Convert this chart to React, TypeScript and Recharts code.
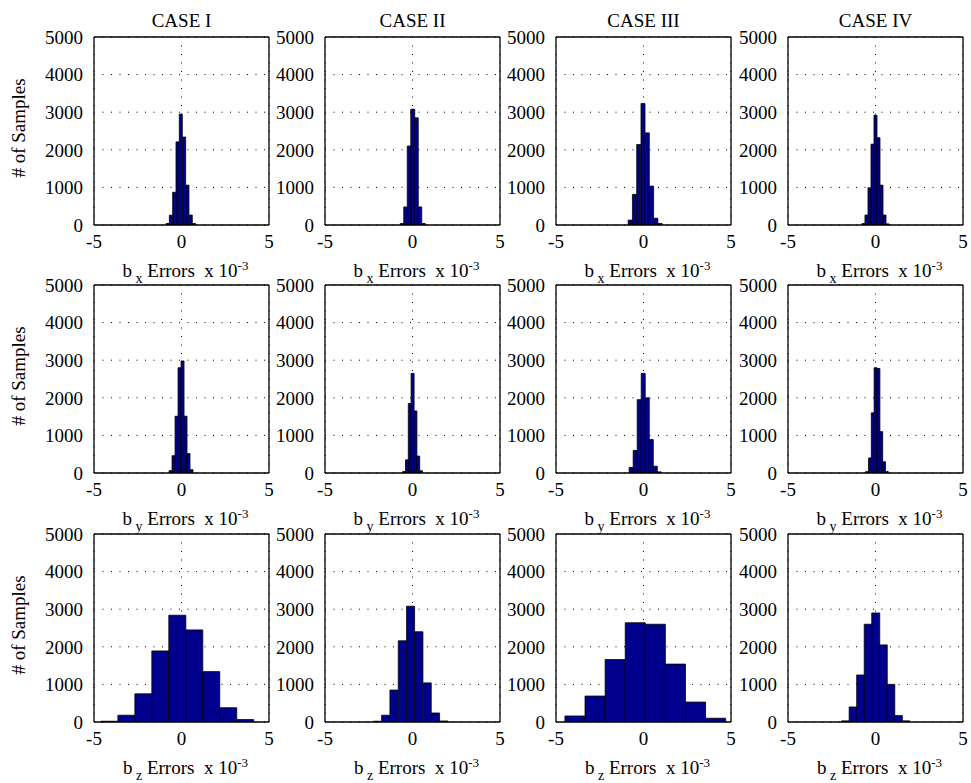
import { Bar, BarChart, CartesianGrid, XAxis, YAxis } from "recharts";

const cases = ["CASE I", "CASE II", "CASE III", "CASE IV"];
const components = ["x", "y", "z"];
const xTicks = [-5, 0, 5];
const yTicks = [0, 1000, 2000, 3000, 4000, 5000];
const xMinorTicks = [
	-5, -4.5, -4, -3.5, -3, -2.5, -2, -1.5, -1, -0.5, 0, 0.5, 1, 1.5, 2, 2.5, 3,
	3.5, 4, 4.5, 5,
];
const yMinorTicks = [0, 500, 1000, 1500, 2000, 2500, 3000, 3500, 4000, 4500, 5000];

// bin centres (x 10^-3) and sample counts, bx row
const bxCase1Centers = [-0.79, -0.6, -0.41, -0.22, -0.03, 0.16, 0.35, 0.54, 0.73];
const bxCase1Counts = [40, 260, 870, 2210, 2950, 2340, 1060, 265, 40];
const bxCase2Centers = [-0.6, -0.4, -0.2, 0, 0.2, 0.4, 0.6];
const bxCase2Counts = [40, 480, 2100, 3080, 2850, 480, 40];
const bxCase3Centers = [-0.755, -0.51, -0.265, -0.02, 0.225, 0.47, 0.715, 0.96];
const bxCase3Counts = [130, 815, 2140, 3230, 2450, 1035, 180, 40];
const bxCase4Centers = [-0.688, -0.516, -0.344, -0.172, 0, 0.172, 0.344, 0.516, 0.688];
const bxCase4Counts = [40, 265, 990, 2150, 2920, 2320, 1060, 265, 30];

// by row
const byCase1Centers = [-0.625, -0.454, -0.283, -0.112, 0.059, 0.23, 0.401, 0.572];
const byCase1Counts = [62, 460, 1510, 2800, 2980, 1510, 515, 90];
const byCase2Centers = [-0.48, -0.32, -0.16, 0, 0.16, 0.32, 0.48];
const byCase2Counts = [40, 350, 1850, 2650, 1650, 450, 60];
const byCase3Centers = [-0.705, -0.475, -0.245, -0.015, 0.215, 0.445, 0.675, 0.905];
const byCase3Counts = [150, 600, 1950, 2650, 2000, 890, 180, 30];
const byCase4Centers = [-0.48, -0.32, -0.16, 0, 0.16, 0.32, 0.48, 0.64];
const byCase4Counts = [40, 400, 1600, 2800, 2780, 1100, 300, 40];

// bz row
const bzCase1Centers = [-4.12, -3.15, -2.18, -1.21, -0.24, 0.73, 1.7, 2.67, 3.64];
const bzCase1Counts = [20, 180, 750, 1890, 2840, 2450, 1340, 380, 65];
const bzCase2Centers = [-2.004, -1.528, -1.052, -0.576, -0.1, 0.376, 0.852, 1.328, 1.804];
const bzCase2Counts = [20, 180, 850, 2160, 3080, 2400, 1040, 240, 27];
const bzCase3Centers = [-3.916, -2.767, -1.618, -0.469, 0.68, 1.829, 2.978, 4.127];
const bzCase3Counts = [160, 690, 1660, 2640, 2600, 1540, 530, 100];
const bzCase4Centers = [-1.72, -1.29, -0.86, -0.43, 0, 0.43, 0.86, 1.29, 1.72];
const bzCase4Counts = [30, 400, 1250, 2600, 2900, 2050, 1000, 170, 30];

const rows = [
	[
		[bxCase1Centers, bxCase1Counts],
		[bxCase2Centers, bxCase2Counts],
		[bxCase3Centers, bxCase3Counts],
		[bxCase4Centers, bxCase4Counts],
	],
	[
		[byCase1Centers, byCase1Counts],
		[byCase2Centers, byCase2Counts],
		[byCase3Centers, byCase3Counts],
		[byCase4Centers, byCase4Counts],
	],
	[
		[bzCase1Centers, bzCase1Counts],
		[bzCase2Centers, bzCase2Counts],
		[bzCase3Centers, bzCase3Counts],
		[bzCase4Centers, bzCase4Counts],
	],
];

const FONT = "'Liberation Serif', 'Times New Roman', serif";
const PLOT_W = 175;
const PLOT_H = 188;
const Y_AXIS_W = 94;
const TOP = 37;
const X_AXIS_H = 60;
const colLeft = [94, 325, 556, 788];
const rowTop = [37, 285, 534];

const border = { stroke: "#000", strokeWidth: 1.3 };
const tickFont = { fill: "#000", fontSize: 19, fontFamily: FONT };

const XLabel = ({ viewBox, sub }: any) => {
	const cx = viewBox.x + viewBox.width / 2 + 4;
	const y = viewBox.y + 52;
	return (
		<text
			x={cx}
			y={y}
			textAnchor="middle"
			fontFamily={FONT}
			fontSize={19}
			fill="#000"
		>
			b
			<tspan dy={6} fontSize={14}>
				{"\u00a0" + sub}
			</tspan>
			<tspan dy={-6}>{"\u00a0Errors\u00a0\u00a0x 10"}</tspan>
			<tspan dy={-7} fontSize={13}>
				-3
			</tspan>
		</text>
	);
};

const YLabel = ({ viewBox }: any) => {
	const cy = viewBox.y + viewBox.height / 2 - 3;
	return (
		<text
			x={25}
			y={cy}
			transform={`rotate(-90 25 ${cy})`}
			textAnchor="middle"
			fontFamily={FONT}
			fontSize={19}
			fill="#000"
		>
			# of Samples
		</text>
	);
};

const Histogram = ({
	centers,
	counts,
	sub,
	showYLabel,
}: {
	centers: number[];
	counts: number[];
	sub: string;
	showYLabel: boolean;
}) => {
	const data = centers.map((x, i) => ({ x, n: counts[i] }));
	return (
		<BarChart
			width={Y_AXIS_W + PLOT_W + 10}
			height={TOP + PLOT_H + X_AXIS_H}
			data={data}
			margin={{ top: TOP, right: 10, left: 0, bottom: 0 }}
			barCategoryGap={0}
		>
			<CartesianGrid stroke="#000" strokeDasharray="1 7.5" />
			<XAxis
				dataKey="x"
				type="number"
				domain={[-5, 5]}
				allowDataOverflow
				ticks={xTicks}
				interval={0}
				height={X_AXIS_H}
				tickLine={false}
				tickSize={0}
				tickMargin={10}
				tick={tickFont}
				axisLine={border}
				label={{ content: (p: any) => <XLabel {...p} sub={sub} /> }}
			/>
			<XAxis
				xAxisId="top"
				orientation="top"
				mirror
				type="number"
				domain={[-5, 5]}
				allowDataOverflow
				ticks={xMinorTicks}
				interval={0}
				tick={false}
				tickSize={3}
				tickLine={{ stroke: "#000" }}
				axisLine={border}
			/>
			<XAxis
				xAxisId="bottomMinor"
				orientation="bottom"
				mirror
				type="number"
				domain={[-5, 5]}
				allowDataOverflow
				ticks={xMinorTicks}
				interval={0}
				tick={false}
				tickSize={3}
				tickLine={{ stroke: "#000" }}
				axisLine={false}
			/>
			<YAxis
				type="number"
				domain={[0, 5000]}
				allowDataOverflow
				ticks={yTicks}
				interval={0}
				width={Y_AXIS_W}
				tickLine={false}
				tickSize={0}
				tickMargin={11}
				tick={tickFont}
				axisLine={border}
				label={showYLabel ? { content: (p: any) => <YLabel {...p} /> } : undefined}
			/>
			<YAxis
				yAxisId="right"
				orientation="right"
				mirror
				type="number"
				domain={[0, 5000]}
				allowDataOverflow
				ticks={yMinorTicks}
				interval={0}
				tick={false}
				tickSize={3}
				tickLine={{ stroke: "#000" }}
				axisLine={border}
			/>
			<YAxis
				yAxisId="leftMinor"
				orientation="left"
				mirror
				type="number"
				domain={[0, 5000]}
				allowDataOverflow
				ticks={yMinorTicks}
				interval={0}
				tick={false}
				tickSize={3}
				tickLine={{ stroke: "#000" }}
				axisLine={false}
			/>
			<Bar
				dataKey="n"
				fill="#00008c"
				stroke="#000"
				strokeWidth={0.8}
				isAnimationActive={false}
			/>
		</BarChart>
	);
};

export default function App() {
	return (
		<div
			style={{
				position: "absolute",
				left: 0,
				top: 0,
				width: 971,
				height: 783,
				background: "#fff",
				overflow: "hidden",
			}}
		>
			{cases.map((title, c) => (
				<div
					key={title}
					style={{
						position: "absolute",
						left: colLeft[c],
						top: 11,
						width: PLOT_W,
						textAlign: "center",
						fontFamily: FONT,
						fontSize: 19,
						lineHeight: "19px",
						color: "#000",
					}}
				>
					{title}
				</div>
			))}
			{rows.map((row, r) =>
				row.map(([centers, counts], c) => (
					<div
						key={`${r}-${c}`}
						style={{
							position: "absolute",
							left: colLeft[c] - Y_AXIS_W,
							top: rowTop[r] - TOP,
						}}
					>
						<Histogram
							centers={centers}
							counts={counts}
							sub={components[r]}
							showYLabel={c === 0}
						/>
					</div>
				)),
			)}
		</div>
	);
}
